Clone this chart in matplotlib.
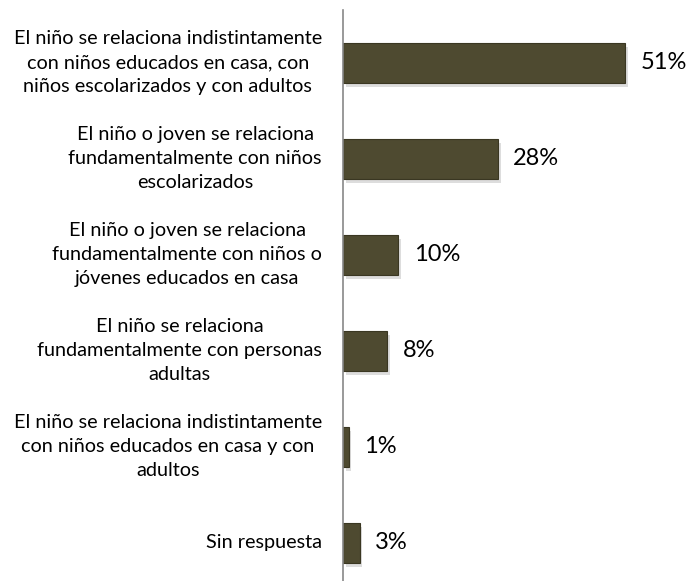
import matplotlib
matplotlib.use("Agg")
import matplotlib.pyplot as plt
import matplotlib.transforms as mtransforms
import matplotlib.patheffects as pe

# datos
categorias = [
    "El niño se relaciona indistintamente\ncon niños educados en casa, con\nniños escolarizados y con adultos",
    "El niño o joven se relaciona\nfundamentalmente con niños\nescolarizados",
    "El niño o joven se relaciona\nfundamentalmente con niños o\njóvenes educados en casa",
    "El niño se relaciona\nfundamentalmente con personas\nadultas",
    "El niño se relaciona indistintamente\ncon niños educados en casa y con\nadultos",
    "Sin respuesta",
]
porcentajes = [51, 28, 10, 8, 1, 3]
etiquetas = ["51%", "28%", "10%", "8%", "1%", "3%"]

plt.rcParams["font.family"] = ["Lato", "DejaVu Sans"]

W, H = 687, 581
fig = plt.figure(figsize=(W / 100, H / 100), dpi=100)
ax = fig.add_axes([343 / W, 0, 1 - 343 / W, 571 / H])

pos = list(range(len(categorias)))
barras = ax.barh(pos, porcentajes, height=0.41, color="#4e4a30",
                 edgecolor="#3a3722", linewidth=0.8)
for b in barras:
    b.set_path_effects([pe.SimplePatchShadow(offset=(2, -3), shadow_rgbFace="#aaaaaa", alpha=0.4),
                        pe.Normal()])

ax.set_ylim(5.396, -0.552)
ax.set_xlim(0, 62.2)

for y, v, t in zip(pos, porcentajes, etiquetas):
    ax.annotate(t, (v, y), xytext=(11, 0), textcoords="offset points",
                va="center", ha="left", fontsize=17, color="#000000")

trans = mtransforms.blended_transform_factory(fig.transFigure, ax.transData)
for y, c in zip(pos, categorias):
    ax.text(322 / W, y, c, transform=trans, ha="right", va="center",
            multialignment="center", fontsize=14.3, linespacing=1.5, color="#000000")

for s in ["top", "right", "bottom"]:
    ax.spines[s].set_visible(False)
ax.spines["left"].set_color("#888888")
ax.spines["left"].set_linewidth(1.2)
ax.set_xticks([])
ax.set_yticks([])

fig.savefig("out.png", dpi=100)
